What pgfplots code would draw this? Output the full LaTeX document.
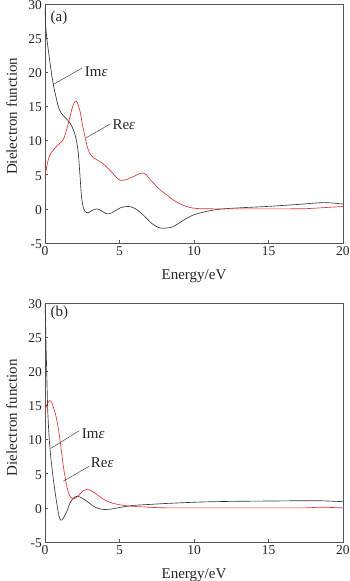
\documentclass[border=0pt]{standalone}
\usepackage{fontspec}
\setmainfont{Liberation Serif}
\usepackage{pgfplots}
\pgfplotsset{compat=1.18}
\definecolor{reline}{RGB}{236,45,45}
\definecolor{imline}{RGB}{55,55,55}
\definecolor{frame}{RGB}{85,85,85}
\definecolor{lead}{RGB}{70,70,70}
\pgfplotsset{
  panel/.style={
    scale only axis, width=298bp, height=239bp,
    xmin=0, xmax=20, ymin=-5, ymax=30,
    xtick={0,5,10,15,20}, ytick={-5,0,5,10,15,20,25,30},
    tick pos=left, tick align=inside, major tick length=3bp,
    axis line style={frame, line width=0.7pt},
    every tick/.style={frame, line width=0.7pt},
    /pgf/number format/assume math mode=true,
    tick label style={font=\fontsize{13.5bp}{15bp}\selectfont, text=black!85},
    yticklabel style={yshift=-1bp, xshift=0.5bp},
    label style={font=\fontsize{15bp}{17bp}\selectfont, text=black!85},
    xlabel={Energy/eV},
    ylabel={Dielectron function},
    xlabel style={at={(axis description cs:0.5,0)}, anchor=base, yshift=-36bp},
    ylabel style={at={(axis description cs:-0.094,0.53)}, anchor=base},
    clip=true,
  },
}
\begin{document}
\begin{tikzpicture}
\useasboundingbox (-45bp,-338bp) rectangle (305bp,243bp);
% ---------------- panel (a)
\begin{axis}[panel, at={(0,0)}, anchor=south west]
\addplot[imline, line width=0.65pt, smooth] coordinates {
(0,29.5) (0.05,26.6) (0.11,25.2) (0.34,21.3) (0.56,18.2) (0.89,15.0) (1.1,14.0)
(1.34,13.4) (1.6,12.8) (1.8,12.1) (2.0,11.0) (2.15,9.5) (2.25,7.8) (2.35,4.8)
(2.46,1.6) (2.6,0.0) (2.75,-0.5) (2.9,-0.6) (3.1,-0.3) (3.47,0.0) (3.8,-0.3)
(4.1,-0.7) (4.36,-0.7) (4.7,-0.3) (5.1,0.2) (5.6,0.35) (6.0,0.1) (6.4,-0.5)
(6.82,-1.4) (7.2,-2.2) (7.72,-2.8) (8.2,-2.8) (8.61,-2.6) (9.2,-1.8) (9.95,-0.9)
(11.0,-0.3) (11.97,0.0) (13.5,0.2) (14.9,0.35) (17.0,0.65) (18.5,0.9) (19.3,0.85) (20,0.7)
};
\addplot[reline, line width=0.65pt, smooth] coordinates {
(0,4.7) (0.1,6.0) (0.22,7.2) (0.4,8.2) (0.56,8.6) (0.75,9.1) (0.95,9.5) (1.15,9.9)
(1.3,10.5) (1.45,11.6) (1.62,13.0) (1.79,14.5) (1.95,15.5) (2.08,15.8) (2.2,15.4)
(2.35,14.3) (2.5,12.5) (2.68,10.6) (2.85,9.0) (3.02,8.1) (3.25,7.5) (3.47,7.2)
(3.7,6.9) (3.9,6.6) (4.2,6.0) (4.47,5.4) (4.75,4.7) (5.03,4.2) (5.3,4.2) (5.59,4.4)
(6.0,4.8) (6.4,5.2) (6.6,5.25) (6.8,5.0) (7.05,4.3) (7.4,3.5) (7.72,2.8) (8.2,2.0)
(8.61,1.3) (9.2,0.6) (9.73,0.2) (10.4,0.03) (12,0.0) (14,0.0) (16,0.0) (17.5,0.03)
(18.5,0.15) (20,0.35)
};
\draw[lead, line width=0.5pt] (axis cs:0.54,18.2) -- (axis cs:2.48,20.6);
\node[anchor=west, inner sep=1bp, font=\fontsize{15bp}{17bp}\selectfont, text=black!85] at (axis cs:2.6,20.1) {Im\textit{ε}};
\draw[lead, line width=0.5pt] (axis cs:2.75,10.4) -- (axis cs:4.36,12.4);
\node[anchor=west, inner sep=1bp, font=\fontsize{15bp}{17bp}\selectfont, text=black!85] at (axis cs:4.45,12.3) {Re\textit{ε}};
\node[anchor=west, inner sep=1bp, font=\fontsize{15bp}{17bp}\selectfont, text=black!85] at (axis cs:0.3,28.0) {(a)};
\end{axis}
% ---------------- panel (b)
\begin{axis}[panel, at={(0,-299bp)}, anchor=south west,
  ylabel style={at={(axis description cs:-0.094,0.52)}, anchor=base}]
\addplot[imline, line width=0.65pt, smooth] coordinates {
(0,29.8) (0.04,27) (0.07,23.8) (0.11,20.4) (0.18,14.5) (0.27,10.6) (0.38,7.6)
(0.56,4.2) (0.78,0.8) (0.92,-1.0) (1.05,-1.8) (1.2,-1.6) (1.45,-0.6) (1.7,0.8)
(1.95,1.5) (2.2,1.7) (2.5,1.4) (2.8,1.0) (3.2,0.3) (3.6,-0.1) (4.0,-0.25)
(4.5,-0.15) (5.0,0.05) (5.9,0.35) (7,0.5) (8.2,0.65) (10.4,0.85) (12.5,0.95)
(15,1.0) (18.2,1.05) (20,0.9)
};
\addplot[reline, line width=0.65pt, smooth] coordinates {
(0,13.8) (0.1,15.0) (0.3,15.7) (0.45,15.4) (0.67,14.0) (0.85,12.2) (1.0,10.1)
(1.12,8.0) (1.23,6.1) (1.35,4.5) (1.45,3.3) (1.58,2.2) (1.7,1.6) (1.9,1.3)
(2.1,1.5) (2.3,1.9) (2.55,2.5) (2.8,2.7) (3.1,2.5) (3.46,2.0) (3.9,1.3)
(4.36,0.8) (4.9,0.5) (5.5,0.3) (6.5,0.15) (8.2,0.0) (12,0.0) (16,0.0)
(17.5,0.0) (18.5,0.1) (19.3,0.05) (20,0.0)
};
\draw[lead, line width=0.5pt] (axis cs:0.38,8.7) -- (axis cs:2.3,11.3);
\node[anchor=west, inner sep=1bp, font=\fontsize{15bp}{17bp}\selectfont, text=black!85] at (axis cs:2.4,10.8) {Im\textit{ε}};
\draw[lead, line width=0.5pt] (axis cs:1.23,3.9) -- (axis cs:2.97,6.1);
\node[anchor=west, inner sep=1bp, font=\fontsize{15bp}{17bp}\selectfont, text=black!85] at (axis cs:3.0,6.6) {Re\textit{ε}};
\node[anchor=west, inner sep=1bp, font=\fontsize{15bp}{17bp}\selectfont, text=black!85] at (axis cs:0.3,28.6) {(b)};
\end{axis}
\end{tikzpicture}
\end{document}
